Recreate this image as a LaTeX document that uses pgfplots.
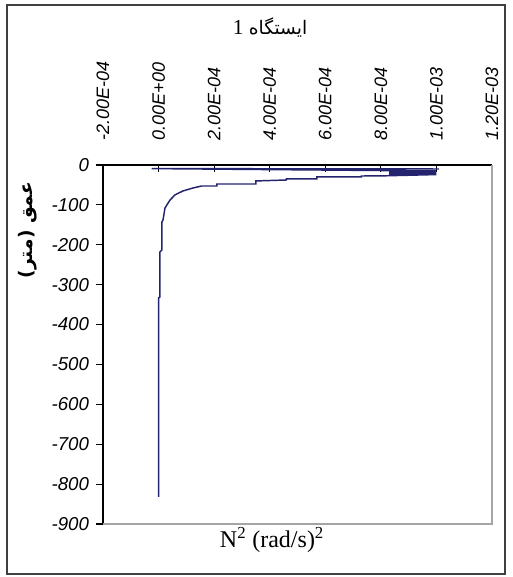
\documentclass[border=0pt]{standalone}
\usepackage{fontspec}
\setmainfont{Liberation Serif}
\setsansfont{Liberation Sans}
\newfontfamily\arabicfont[Script=Arabic]{DejaVu Sans}
\TeXXeTstate=1
\usepackage{pgfplots}
\pgfplotsset{compat=1.18}
\definecolor{navyline}{RGB}{35,35,110}
\definecolor{plotgrey}{RGB}{165,165,165}
\begin{document}
\begin{tikzpicture}
\path (0,0) rectangle (384pt,-432.75pt);
\draw[line width=1.5pt, black!75] (5.25pt,-3.75pt) rectangle (378.75pt,-430.5pt);
\begin{axis}[
  at={(77.25pt,-393pt)}, anchor=south west,
  scale only axis, width=291.75pt, height=269.25pt,
  xmin=-2e-4, xmax=1.2e-3, ymin=-900, ymax=0,
  axis x line*=top, axis y line*=left,
  axis line style={black, line width=0.9pt, -},
  xtick={-2e-4,0,2e-4,4e-4,6e-4,8e-4,1e-3,1.2e-3},
  xticklabels={-2.00E-04,0.00E+00,2.00E-04,4.00E-04,6.00E-04,8.00E-04,1.00E-03,1.20E-03},
  xticklabel style={rotate=90, anchor=west, font=\sffamily\itshape\fontsize{13.5}{14}\selectfont},
  xticklabel shift=15pt,
  ytick={0,-100,-200,-300,-400,-500,-600,-700,-800,-900},
  yticklabels={0,-100,-200,-300,-400,-500,-600,-700,-800,-900},
  yticklabel style={font=\sffamily\itshape\fontsize{14}{14}\selectfont, xshift=-2pt},
  xtick align=inside, ytick align=outside,
  major tick length=5pt,
  tick style={black, line width=0.8pt},
  scaled x ticks=false,
  clip=false,
]
\draw[plotgrey, line width=1.5pt] (rel axis cs:0,0) -- (rel axis cs:1,0) -- (rel axis cs:1,1);
\addplot[navyline, line width=1.1pt, mark=none] coordinates {
(1.01e-3,-10) (-2.5e-5,-9) (1.00e-3,-15) (8.3e-4,-18) (1.00e-3,-20) (8.3e-4,-22)
(1.00e-3,-24) (8.2e-4,-27) (7.3e-4,-27.6) (7.3e-4,-30) (5.7e-4,-30) (5.7e-4,-35)
(4.6e-4,-35) (4.6e-4,-37.6) (3.5e-4,-40) (3.5e-4,-47.6) (2.1e-4,-47.6) (2.1e-4,-52.6)
(1.55e-4,-52.6) (1.24e-4,-57.6) (0.88e-4,-65) (0.59e-4,-75) (0.41e-4,-88) (0.30e-4,-100)
(0.23e-4,-108) (0.16e-4,-138) (0.12e-4,-143) (0.12e-4,-213) (0.05e-4,-218) (0.05e-4,-331)
(0.0,-333) (0.0,-832)
};
\end{axis}
\node[font=\fontsize{16}{16}\selectfont] at (202.5pt,-21pt) {1 {\arabicfont\fontsize{14}{14}\selectfont\beginR ایستگاه\endR}};
\node[rotate=90, font=\arabicfont\bfseries\fontsize{14}{14}\selectfont] at (21pt,-172.5pt) {\beginR عمق (متر)\endR};
\node[font=\fontsize{18}{18}\selectfont] at (204pt,-405pt) {N\textsuperscript{2} (rad/s)\textsuperscript{2}};
\end{tikzpicture}
\end{document}
